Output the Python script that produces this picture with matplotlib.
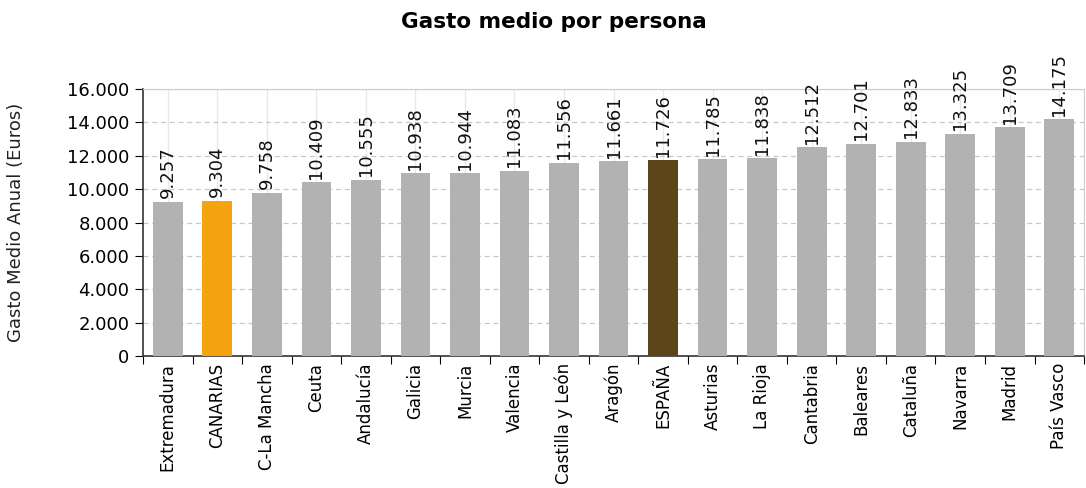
import matplotlib
matplotlib.use("Agg")
import matplotlib.pyplot as plt
import numpy as np

# data
regiones = ["Extremadura", "CANARIAS", "C-La Mancha", "Ceuta", "Andalucía", "Galicia",
            "Murcia", "Valencia", "Castilla y León", "Aragón", "ESPAÑA", "Asturias",
            "La Rioja", "Cantabria", "Baleares", "Cataluña", "Navarra", "Madrid", "País Vasco"]
gasto = [9257, 9304, 9758, 10409, 10555, 10938, 10944, 11083, 11556, 11661, 11726,
         11785, 11838, 12512, 12701, 12833, 13325, 13709, 14175]
y_ticks = [0, 2000, 4000, 6000, 8000, 10000, 12000, 14000, 16000]


def fmt(v):
    return f"{v:,}".replace(",", ".")


colores = []
for r in regiones:
    if r == "CANARIAS":
        colores.append("#f5a30f")
    elif r == "ESPAÑA":
        colores.append("#5c4619")
    else:
        colores.append("#b2b2b2")

fig = plt.figure(figsize=(10.86, 4.88), dpi=100)
ax = fig.add_axes([0.1317, 0.2705, 0.8665, 0.5471])

x = np.arange(len(regiones))
ax.bar(x, gasto, width=0.6, color=colores, zorder=3)

# value labels
for xi, v in zip(x, gasto):
    ax.text(xi, v + 220, fmt(v), rotation=90, ha="center", va="bottom",
            fontsize=13, color="#111111", zorder=4)

ax.set_xlim(-0.5, len(regiones) - 0.5)
ax.set_ylim(0, 16000)
ax.set_yticks(y_ticks)
ax.set_yticklabels([fmt(t) for t in y_ticks], fontsize=13)

# category ticks at boundaries, labels at centers
ax.set_xticks(np.arange(-0.5, len(regiones), 1))
ax.set_xticklabels([])
ax.set_xticks(x, minor=True)
ax.set_xticklabels(regiones, minor=True, rotation=90, fontsize=12)
ax.tick_params(axis="x", which="minor", length=0, pad=5)
ax.tick_params(axis="x", which="major", length=6, direction="out")
ax.tick_params(axis="y", length=6, direction="out", pad=4)

# grid
ax.yaxis.grid(True, linestyle=(0, (4, 3)), color="#c8c8c8", linewidth=0.9, zorder=0)
for xi in x:
    ax.axvline(xi, color="#e8e8e8", linewidth=1, zorder=1)

for s in ["left", "bottom"]:
    ax.spines[s].set_color("#333333")
    ax.spines[s].set_linewidth(1.2)
for s in ["top", "right"]:
    ax.spines[s].set_color("#cccccc")

ax.set_ylabel("Gasto Medio Anual (Euros)", fontsize=13, labelpad=30, color="#222222")
fig.suptitle("Gasto medio por persona", fontsize=15.5, fontweight="bold", x=0.51, y=0.975)

plt.savefig("out.png", dpi=100)
